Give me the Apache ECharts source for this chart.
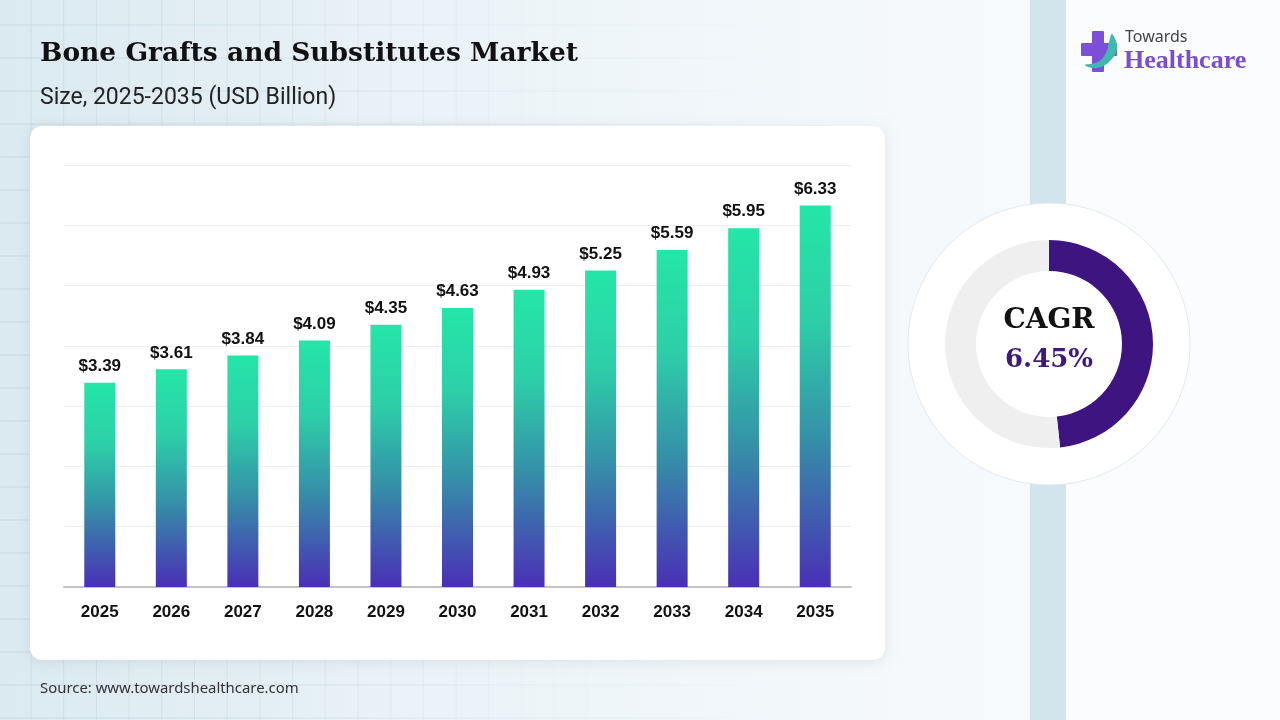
<!DOCTYPE html>
<html>
<head>
<meta charset="utf-8">
<script src="https://cdn.jsdelivr.net/npm/echarts@6/dist/echarts.min.js"></script>
<style>
html,body{margin:0;padding:0;width:1280px;height:720px;overflow:hidden;background:#f7fafc;}
#c{width:1280px;height:720px;}
</style>
</head>
<body>
<div id="c"></div>
<script>
var categories = ['2025','2026','2027','2028','2029','2030','2031','2032','2033','2034','2035'];
var marketSize = [3.39, 3.61, 3.84, 4.09, 4.35, 4.63, 4.93, 5.25, 5.59, 5.95, 6.33];
var cagrLabel = '6.45%';
var cagrRing = [48.3, 51.7];

var chart = echarts.init(document.getElementById('c'));

var bg = [];
bg.push({type:'rect', silent:true, z:-10, shape:{x:0,y:0,width:1030,height:720},
  style:{fill:new echarts.graphic.LinearGradient(0,0,1,0,[{offset:0,color:'#dbeaf1'},{offset:0.55,color:'#eef5f9'},{offset:1,color:'#f7fafc'}])}});
bg.push({type:'rect', silent:true, z:-10, shape:{x:1066,y:0,width:214,height:720}, style:{fill:'#fafcfd'}});
bg.push({type:'rect', silent:true, z:-9, shape:{x:1030,y:0,width:36,height:720}, style:{fill:'#d2e5ed'}});
for (var gx = 31; gx < 1000; gx += 32.7) {
  var op = Math.max(0, 0.7 - gx/900);
  bg.push({type:'line', silent:true, z:-8, shape:{x1:gx,y1:0,x2:gx,y2:720}, style:{stroke:'rgba(195,214,225,'+op.toFixed(2)+')', lineWidth:1}});
}
for (var gy = 25; gy < 720; gy += 33) {
  bg.push({type:'line', silent:true, z:-8, shape:{x1:0,y1:gy,x2:1000,y2:gy},
    style:{stroke:new echarts.graphic.LinearGradient(0,0,1,0,[{offset:0,color:'rgba(195,214,225,0.8)'},{offset:0.8,color:'rgba(195,214,225,0)'}]), lineWidth:1}});
}
bg.push({type:'rect', silent:true, z:-5, shape:{x:30,y:126,width:855,height:534,r:12},
  style:{fill:'#ffffff', shadowBlur:12, shadowColor:'rgba(0,0,0,0.08)', shadowOffsetY:2}});
bg.push({type:'circle', silent:true, z:-5, shape:{cx:1049,cy:344,r:141},
  style:{fill:'#ffffff', stroke:'#e3eaee', lineWidth:1}});
bg.push({type:'text', z:10, style:{x:40, y:54, text:'Bone Grafts and Substitutes Market', fill:'#111111', verticalAlign:'middle',
  font:'bold 26.5px "DejaVu Serif", serif'}});
bg.push({type:'text', z:10, style:{x:40, y:98, text:'Size, 2025-2035 (USD Billion)', fill:'#222222', verticalAlign:'middle',
  font:'23px Roboto, "Noto Sans", sans-serif'}});
bg.push({type:'text', z:10, style:{x:40, y:689, text:'Source: www.towardshealthcare.com', fill:'#333333', verticalAlign:'middle',
  font:'14.9px "Noto Sans", Roboto, sans-serif'}});
// logo
bg.push({type:'rect', z:10, shape:{x:1092,y:31,width:12,height:41,r:1}, style:{fill:'#7d4fd8'}});
bg.push({type:'rect', z:10, shape:{x:1081,y:43,width:36,height:13,r:1}, style:{fill:'#7d4fd8'}});
bg.push({type:'polygon', z:11, shape:{smooth:0.4, points:[[1112,34],[1117,48],[1110,61],[1097,68],[1085,65],[1098,62],[1106,53],[1109,42]]},
  style:{fill:'#3fb8b0'}});
bg.push({type:'text', z:10, style:{x:1125, y:37, text:'Towards', fill:'#444444', verticalAlign:'middle', font:'16px "Noto Sans", Roboto, sans-serif'}});
bg.push({type:'text', z:10, style:{x:1124, y:61, text:'Healthcare', fill:'#7a4ed3', verticalAlign:'middle', font:'bold 26px "Liberation Serif", "DejaVu Serif", serif'}});
bg.push({type:'text', z:20, style:{x:1049, y:321, text:'CAGR', fill:'#111111', align:'center', verticalAlign:'middle',
  font:'bold 28px "DejaVu Serif", serif'}});
bg.push({type:'text', z:20, style:{x:1049, y:360, text:cagrLabel, fill:'#3f1a7d', align:'center', verticalAlign:'middle',
  font:'bold 26px "DejaVu Serif", serif'}});

var barGrad = new echarts.graphic.LinearGradient(0,0,0,1,[
  {offset:0,color:'#24e6a7'},
  {offset:0.3,color:'#2dcfa8'},
  {offset:0.6,color:'#3592a8'},
  {offset:1,color:'#4a2fb6'}
]);

chart.setOption({
  backgroundColor:'transparent',
  animation:false,
  graphic: bg,
  grid:{left:64, right:429, top:165, bottom:133},
  xAxis:{type:'category', data:categories,
    axisLine:{lineStyle:{color:'#c4c4c4', width:2}},
    axisTick:{show:false},
    axisLabel:{color:'#111111', fontSize:17, fontWeight:'bold', margin:17, fontFamily:'"Liberation Sans", Arial, sans-serif'}},
  yAxis:{type:'value', min:0, max:7, interval:1,
    axisLabel:{show:false}, axisLine:{show:false}, axisTick:{show:false},
    splitLine:{lineStyle:{color:'#efefef', width:1}}},
  series:[
    {type:'bar', data:marketSize, barWidth:31,
      itemStyle:{color:barGrad},
      label:{show:true, position:'top', distance:8, color:'#111111', fontSize:17, fontWeight:'bold',
        fontFamily:'"Liberation Sans", Arial, sans-serif',
        formatter:function(p){return '$' + p.value.toFixed(2);}}},
    {type:'pie', center:[1049,344], radius:[73,104], startAngle:90, clockwise:true,
      silent:true, label:{show:false}, labelLine:{show:false},
      data:[{value:cagrRing[0], itemStyle:{color:'#3e1481'}},{value:cagrRing[1], itemStyle:{color:'#efefef'}}]}
  ]
});
</script>
</body>
</html>
